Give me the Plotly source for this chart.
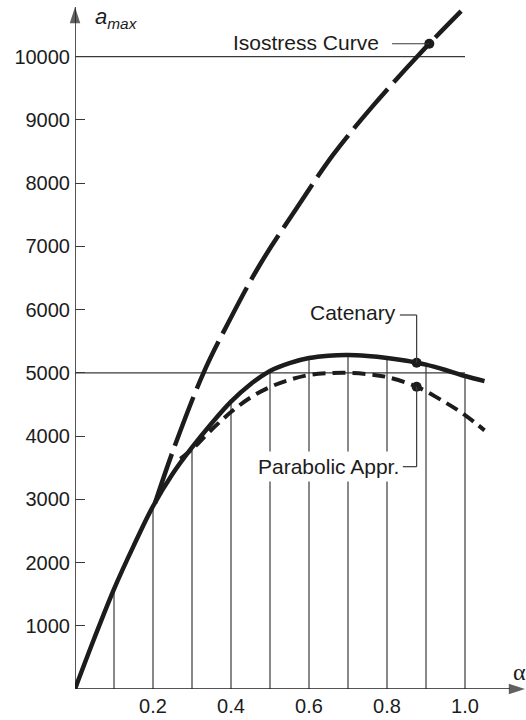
import plotly.graph_objects as go

# Catenary curve (solid), sampled at the grid stations plus the marked point
cat_alpha = [0.0, 0.05, 0.1, 0.15, 0.2, 0.25, 0.3, 0.35, 0.4, 0.45, 0.5,
             0.55, 0.6, 0.65, 0.7, 0.75, 0.8, 0.85, 0.876, 0.9, 0.95, 1.0, 1.05]
cat_amax = [0, 810, 1580, 2260, 2890, 3400, 3820, 4200, 4545, 4820, 5030,
            5155, 5235, 5272, 5282, 5266, 5235, 5190, 5160, 5130, 5045, 4950, 4870]

# Parabolic approximation (short dashes)
par_alpha = [0.27, 0.3, 0.35, 0.4, 0.45, 0.5, 0.55, 0.6, 0.65, 0.7, 0.75,
             0.8, 0.876, 0.95, 1.0, 1.05]
par_amax = [3640, 3790, 4100, 4380, 4610, 4776, 4890, 4966, 4995, 5000, 4980,
            4934, 4781, 4530, 4333, 4090]

# Isostress curve (long dashes)
iso_alpha = [0.205, 0.252, 0.329, 0.397, 0.474, 0.569, 0.662,
             0.765, 0.88, 0.99]
iso_amax = [2937, 3780, 4993, 5840, 6710, 7610, 8450,
            9230, 10020, 10720]

# Vertical reference stations and horizontal reference levels
grid_alpha = [0.1, 0.2, 0.3, 0.4, 0.5, 0.6, 0.7, 0.8, 0.9, 1.0]
ref_levels = [5000, 10000]

x_ticks = [0.2, 0.4, 0.6, 0.8, 1.0]
x_ticktext = ["0.2", "0.4", "0.6", "0.8", "1.0"]
y_ticks = [1000, 2000, 3000, 4000, 5000, 6000, 7000, 8000, 9000, 10000]
y_ticktext = [str(v) for v in y_ticks]

# Marked points with their labels
mark_cat = (0.876, 5160)
mark_par = (0.876, 4781)
mark_iso = (0.9085, 10205)

# Axis extents (arrow tips)
x_axis_end = 1.1538
y_axis_end = 10786

INK = "#1c1c1c"
THIN = "#3a3a3a"
FONT = "Liberation Sans, Arial, sans-serif"

X_MAX = 451 / 390
Y_MAX = 689 / 0.06323

fig = go.Figure()

# grid stations: from the axis up to the catenary
gx, gy = [], []
for a in grid_alpha:
    v = cat_amax[cat_alpha.index(a)]
    gx += [a, a, None]
    gy += [0, v, None]
fig.add_trace(go.Scatter(x=gx, y=gy, mode="lines",
                         line=dict(color=THIN, width=1.2), hoverinfo="skip"))

# horizontal reference levels
hx, hy = [], []
for lvl in ref_levels:
    hx += [0, 1.0, None]
    hy += [lvl, lvl, None]
fig.add_trace(go.Scatter(x=hx, y=hy, mode="lines",
                         line=dict(color=THIN, width=1.3), hoverinfo="skip"))

fig.add_trace(go.Scatter(x=iso_alpha, y=iso_amax, mode="lines",
                         line=dict(color=INK, width=4.5, dash="52px,9px",
                                   shape="spline", smoothing=1.0)))
fig.add_trace(go.Scatter(x=par_alpha, y=par_amax, mode="lines",
                         line=dict(color=INK, width=4, dash="13px,7px",
                                   shape="spline", smoothing=1.0)))
fig.add_trace(go.Scatter(x=cat_alpha, y=cat_amax, mode="lines",
                         line=dict(color=INK, width=4.5,
                                   shape="spline", smoothing=1.0)))

fig.add_trace(go.Scatter(x=[mark_cat[0], mark_par[0], mark_iso[0]],
                         y=[mark_cat[1], mark_par[1], mark_iso[1]],
                         mode="markers",
                         marker=dict(color=INK, size=10)))

# axes with arrowheads
for ax_x, ax_y in (([0, x_axis_end], [0, 0]), ([0, 0], [0, y_axis_end])):
    fig.add_trace(go.Scatter(
        x=ax_x, y=ax_y, mode="lines+markers", cliponaxis=False,
        line=dict(color=INK, width=1.5),
        marker=dict(symbol="arrow", angleref="previous", size=[0, 17],
                    color=INK, line=dict(width=0)),
        hoverinfo="skip"))

# leader lines
cat_lbl_y = 5915
par_lbl_y = 3516
lead = dict(color=THIN, width=1.2)
shapes = [
    dict(type="line", xref="x", yref="y", x0=0.813, x1=mark_iso[0],
         y0=mark_iso[1], y1=mark_iso[1], line=lead),
    dict(type="line", xref="x", yref="y", x0=0.833, x1=mark_cat[0],
         y0=cat_lbl_y, y1=cat_lbl_y, line=lead),
    dict(type="line", xref="x", yref="y", x0=mark_cat[0], x1=mark_cat[0],
         y0=cat_lbl_y, y1=mark_cat[1], line=lead),
    dict(type="line", xref="x", yref="y", x0=0.84, x1=mark_par[0],
         y0=par_lbl_y, y1=par_lbl_y, line=lead),
    dict(type="line", xref="x", yref="y", x0=mark_par[0], x1=mark_par[0],
         y0=par_lbl_y, y1=mark_par[1], line=lead),
]

lbl_font = dict(family=FONT, size=21, color=INK)
annotations = [
    dict(x=0.785, y=10232, xref="x", yref="y", text="Isostress Curve",
         showarrow=False, xanchor="right", yanchor="middle", font=lbl_font),
    dict(x=0.829, y=5962, xref="x", yref="y", text="Catenary",
         showarrow=False, xanchor="right", yanchor="middle", font=lbl_font),
    dict(x=0.842, y=par_lbl_y, xref="x", yref="y", text="Parabolic Appr.",
         showarrow=False, xanchor="right", yanchor="middle", font=lbl_font,
         bgcolor="white", borderpad=3),
    # axis titles
    dict(x=0.046, y=10610, xref="x", yref="y", text="<i>a<sub>max</sub></i>",
         showarrow=False, xanchor="left", yanchor="middle",
         font=dict(family=FONT, size=22, color=INK)),
    dict(x=1.141, y=269, xref="x", yref="y", text="α",
         showarrow=False, xanchor="center", yanchor="middle",
         font=dict(family="Liberation Serif, serif", size=24, color=INK)),
]

fig.update_layout(
    width=526, height=720,
    margin=dict(l=75, r=0, t=0, b=31),
    plot_bgcolor="white", paper_bgcolor="white",
    showlegend=False,
    shapes=shapes,
    annotations=annotations,
    xaxis=dict(range=[0, X_MAX], showgrid=False, zeroline=False, showline=False,
               tickvals=x_ticks, ticktext=x_ticktext, ticks="",
               tickfont=dict(family=FONT, size=20, color=INK),
               ticklabelstandoff=3),
    yaxis=dict(range=[0, Y_MAX], showgrid=False, zeroline=False, showline=False,
               tickvals=y_ticks, ticktext=y_ticktext,
               ticks="inside", ticklen=10, tickwidth=1.2,
               tickcolor=THIN,
               tickfont=dict(family=FONT, size=20, color=INK),
               ticklabelstandoff=4),
)

fig.write_html("out.html")
